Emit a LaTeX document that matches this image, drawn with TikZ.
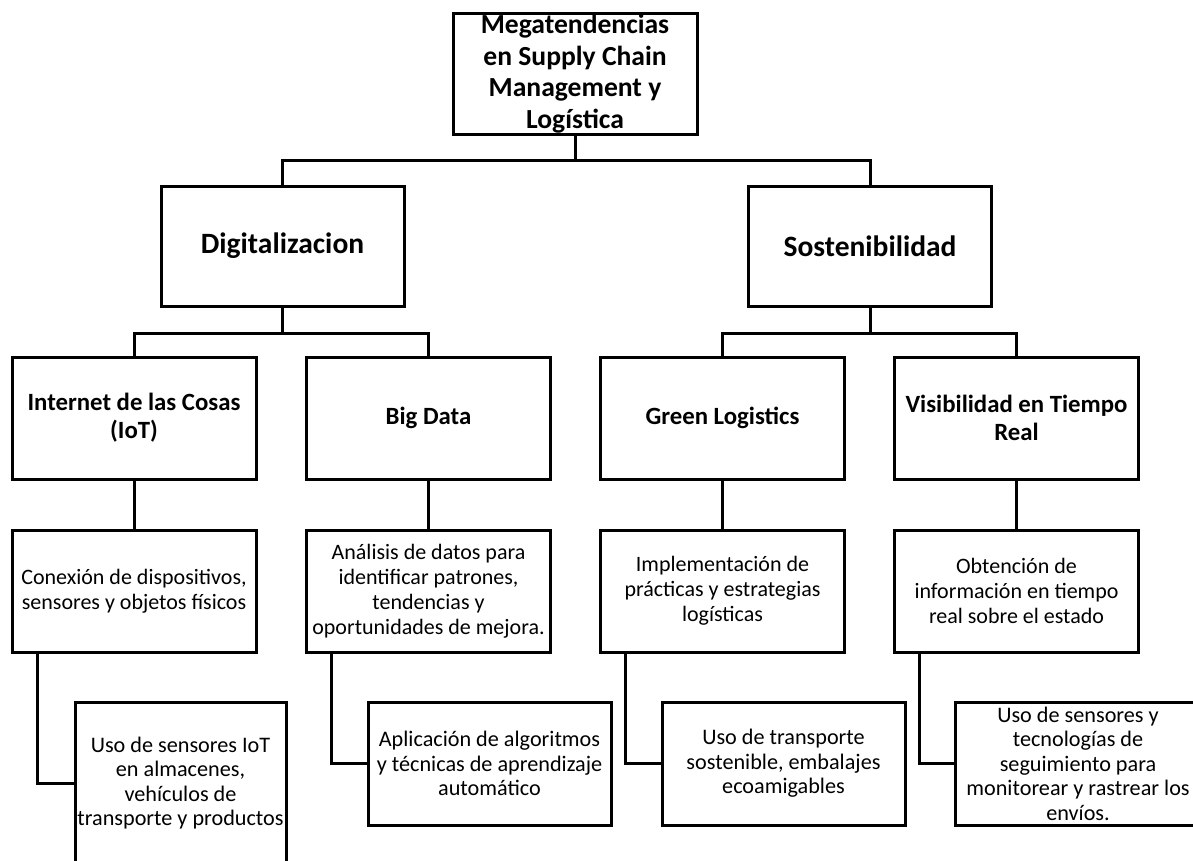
\documentclass[tikz,border=0pt]{standalone}
\usepackage{fontspec}
\setmainfont{Carlito}
\begin{document}
\begin{tikzpicture}[x=1pt,y=-1pt,
  box/.style={draw=black, line width=3pt, fill=white, rectangle, align=center,
              inner sep=0pt, outer sep=0pt, text=black},
  wire/.style={draw=black, line width=3pt},
  titlefont/.style={font=\bfseries\fontsize{27.6}{31.7}\selectfont},
  headfont/.style={font=\bfseries\fontsize{29.5}{34}\selectfont},
  subfont/.style={font=\bfseries\fontsize{24.8}{28}\selectfont},
  descfont/.style={font=\fontsize{22}{25}\selectfont},
  notefont/.style={font=\fontsize{22.2}{24.5}\selectfont}
]
\path[use as bounding box] (0,0) rectangle (1193,860);
\clip (0,0) rectangle (1193,860);

% root
\node[box, titlefont, minimum width=244pt, minimum height=121pt] (root) at (575,73.5)
  {Megatendencias\\en Supply Chain\\Management y\\Logística};

% two main trends
\node[box, headfont, minimum width=243pt, minimum height=120pt] (dig) at (282.5,246) {Digitalizacion};
\node[box, headfont, minimum width=243pt, minimum height=120pt] (sos) at (870,246) {Sostenibilidad};

% topics
\node[box, subfont, minimum width=244pt, minimum height=122pt] (iot)   at (134,418)   {Internet de las Cosas\\(IoT)};
\node[box, subfont, minimum width=244pt, minimum height=122pt] (big)   at (428.5,418) {Big Data};
\node[box, subfont, minimum width=244pt, minimum height=122pt] (green) at (722.5,418) {Green Logistics};
\node[box, subfont, minimum width=244pt, minimum height=122pt] (vis)   at (1016.5,418) {Visibilidad en Tiempo\\Real};

% descriptions
\node[box, descfont, minimum width=244pt, minimum height=122pt] (iotd)   at (134,591)
  {Conexión de dispositivos,\\sensores y objetos físicos};
\node[box, descfont, minimum width=244pt, minimum height=122pt] (bigd)   at (428.5,591)
  {Análisis de datos para\\identificar patrones,\\tendencias y\\oportunidades de mejora.};
\node[box, descfont, minimum width=244pt, minimum height=122pt] (greend) at (722.5,591)
  {Implementación de\\prácticas y estrategias\\logísticas};
\node[box, descfont, minimum width=244pt, minimum height=122pt] (visd)   at (1016.5,591)
  {Obtención de\\información en tiempo\\real sobre el estado};

% applications
\node[box, notefont, minimum width=211pt, minimum height=162pt] (iotu)   at (180.5,783)
  {Uso de sensores IoT\\en almacenes,\\vehículos de\\transporte y productos};
\node[box, notefont, minimum width=243pt, minimum height=123pt] (bigu)   at (489.5,763.5)
  {Aplicación de algoritmos\\y técnicas de aprendizaje\\automático};
\node[box, notefont, minimum width=243pt, minimum height=123pt] (greenu) at (783.5,763.5)
  {Uso de transporte\\sostenible, embalajes\\ecoamigables};
\node[box, notefont, minimum width=246pt, minimum height=123pt] (visu)   at (1078,763.5)
  {Uso de sensores y\\tecnologías de\\seguimiento para\\monitorear y rastrear los\\envíos.};

% root to trends
\coordinate (bus0) at (root.south |- 0,160);
\draw[wire] (root.south) -- (bus0) -| (dig.north);
\draw[wire] (bus0) -| (sos.north);

% trends to topics
\coordinate (bus1) at (dig.south |- 0,333);
\draw[wire] (dig.south) -- (bus1) -| (iot.north);
\draw[wire] (bus1) -| (big.north);
\coordinate (bus2) at (sos.south |- 0,333);
\draw[wire] (sos.south) -- (bus2) -| (green.north);
\draw[wire] (bus2) -| (vis.north);

% topics to descriptions
\draw[wire] (iot.south) -- (iotd.north);
\draw[wire] (big.south) -- (bigd.north);
\draw[wire] (green.south) -- (greend.north);
\draw[wire] (vis.south) -- (visd.north);

% descriptions to applications
\draw[wire] ([xshift=25pt]iotd.south west) |- (iotu.west);
\draw[wire] ([xshift=25pt]bigd.south west) |- (bigu.west);
\draw[wire] ([xshift=25pt]greend.south west) |- (greenu.west);
\draw[wire] ([xshift=25pt]visd.south west) |- (visu.west);
\end{tikzpicture}
\end{document}
